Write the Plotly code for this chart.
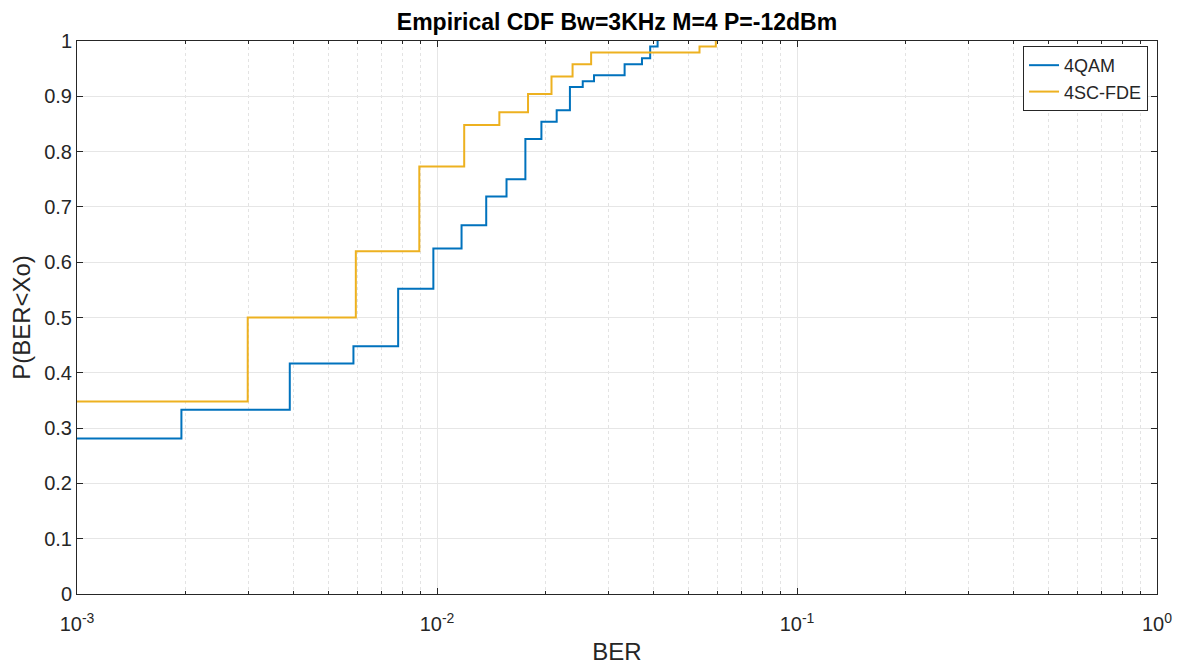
import plotly.graph_objects as go

# BER values where the empirical CDF steps
ber_4qam = [0.001, 0.00195, 0.0039, 0.00586, 0.0078, 0.00977, 0.0117, 0.0137,
            0.0156, 0.0176, 0.0195, 0.0215, 0.0234, 0.0254, 0.0273, 0.0332,
            0.0371, 0.0391, 0.0410]
cdf_4qam = [0.281, 0.333, 0.417, 0.448, 0.552, 0.625, 0.667, 0.719, 0.750,
            0.823, 0.854, 0.875, 0.917, 0.927, 0.938, 0.958, 0.969, 0.990, 1.0]

ber_fde = [0.001, 0.00298, 0.00595, 0.00893, 0.0119, 0.0149, 0.0179, 0.0208,
           0.0238, 0.0268, 0.0536, 0.0595]
cdf_fde = [0.348, 0.500, 0.620, 0.773, 0.848, 0.871, 0.904, 0.936, 0.958,
           0.979, 0.990, 1.0]

y_ticks = [0, 0.1, 0.2, 0.3, 0.4, 0.5, 0.6, 0.7, 0.8, 0.9, 1]
y_tick_text = ["0", "0.1", "0.2", "0.3", "0.4", "0.5", "0.6", "0.7", "0.8", "0.9", "1"]
x_ticks = [0.001, 0.01, 0.1, 1]
x_tick_text = ["10<sup>-3</sup>", "10<sup>-2</sup>", "10<sup>-1</sup>", "10<sup>0</sup>"]

FONT = "Liberation Sans, Arial, sans-serif"
TXT = "#262626"

fig = go.Figure()
fig.add_trace(go.Scatter(x=ber_4qam, y=cdf_4qam, mode="lines", name="4QAM",
                         line=dict(color="#0072BD", width=2, shape="hv")))
fig.add_trace(go.Scatter(x=ber_fde, y=cdf_fde, mode="lines", name="4SC-FDE",
                         line=dict(color="#EDB120", width=2, shape="hv")))

fig.update_layout(
    width=1186, height=665,
    margin=dict(l=77, r=29, t=41, b=71),
    paper_bgcolor="white", plot_bgcolor="white",
    font=dict(family=FONT, color=TXT, size=20),
    title=dict(text="<b>Empirical CDF Bw=3KHz M=4 P=-12dBm</b>",
               x=0.5, xref="paper", xanchor="center", y=1 - 22 / 665,
               yref="container", yanchor="middle",
               font=dict(size=23, color="black")),
    showlegend=True,
    legend=dict(x=0.9917, xanchor="right", y=0.991, yanchor="top",
                bgcolor="white", bordercolor=TXT, borderwidth=1,
                font=dict(size=18, color=TXT), itemwidth=30,
                tracegroupgap=0),
)

fig.update_xaxes(
    type="log", range=[-3, 0], automargin=False,
    tickvals=x_ticks, ticktext=x_tick_text,
    ticks="inside", ticklen=6, tickcolor=TXT, tickfont=dict(size=20, color=TXT),
    ticklabelstandoff=12,
    showline=True, linecolor=TXT, linewidth=1, mirror="allticks",
    showgrid=True, gridcolor="#E6E6E6", gridwidth=1,
    minor=dict(dtick="D1", showgrid=True, gridcolor="#E3E3E3", griddash="dot",
               ticks="inside", ticklen=3, tickcolor=TXT),
    zeroline=False,
    title=dict(text="BER", font=dict(size=24, color=TXT), standoff=12),
)
fig.update_yaxes(
    range=[0, 1], automargin=False, tickvals=y_ticks, ticktext=y_tick_text,
    ticks="inside", ticklen=6, tickcolor=TXT, tickfont=dict(size=20, color=TXT),
    showline=True, linecolor=TXT, linewidth=1, mirror="allticks",
    showgrid=True, gridcolor="#E6E6E6", gridwidth=1,
    zeroline=False,
    title=dict(text="P(BER<Xo)", font=dict(size=24, color=TXT), standoff=6),
)

fig.write_html("out.html")
